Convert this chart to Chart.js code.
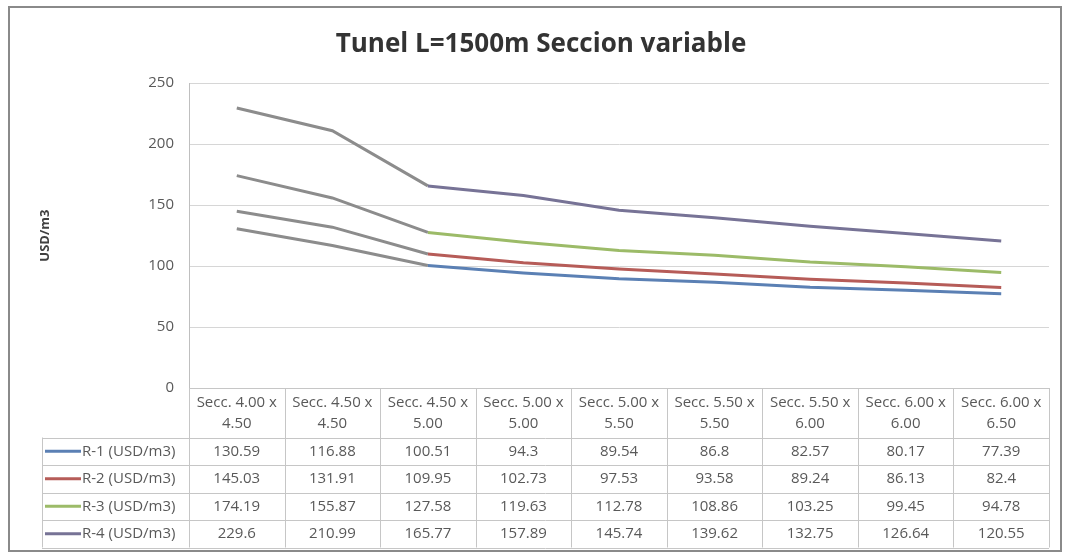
<!DOCTYPE html>
<html>
<head>
<meta charset="utf-8">
<script src="https://cdn.jsdelivr.net/npm/chart.js@4/dist/chart.umd.min.js"></script>
<style>
  html, body { margin: 0; padding: 0; background: #ffffff; }
  #wrap { position: relative; width: 1065px; height: 556px; }
</style>
</head>
<body>
<div id="wrap"><canvas id="c" width="1065" height="556"></canvas></div>
<script>
// Tunnel sections (two-line headers, as wrapped in the data table)
const categories = [
  ['Secc. 4.00 x', '4.50'],
  ['Secc. 4.50 x', '4.50'],
  ['Secc. 4.50 x', '5.00'],
  ['Secc. 5.00 x', '5.00'],
  ['Secc. 5.00 x', '5.50'],
  ['Secc. 5.50 x', '5.50'],
  ['Secc. 5.50 x', '6.00'],
  ['Secc. 6.00 x', '6.00'],
  ['Secc. 6.00 x', '6.50']
];

const seriesNames = ['R-1 (USD/m3)', 'R-2 (USD/m3)', 'R-3 (USD/m3)', 'R-4 (USD/m3)'];
const r1 = [130.59, 116.88, 100.51, 94.3, 89.54, 86.8, 82.57, 80.17, 77.39];
const r2 = [145.03, 131.91, 109.95, 102.73, 97.53, 93.58, 89.24, 86.13, 82.4];
const r3 = [174.19, 155.87, 127.58, 119.63, 112.78, 108.86, 103.25, 99.45, 94.78];
const r4 = [229.6, 210.99, 165.77, 157.89, 145.74, 139.62, 132.75, 126.64, 120.55];

const yMin = 0;
const yMax = 250;
const yStep = 50;

const seriesColors = ['#5b80b4', '#b65c58', '#9cbb68', '#777396'];
const fadedColor = '#8c8c8c';
const FONT = "'Open Sans', 'DejaVu Sans', sans-serif";
const TEXT = '#595959';
const RULE = '#c6c6c6';

const seriesData = [r1, r2, r3, r4];

// Segments over the smaller sections print in grey
const fadeSegments = (color) => (ctx) => (ctx.p0DataIndex < 2 ? fadedColor : color);

const datasets = seriesData.map((d, i) => ({
  label: seriesNames[i],
  data: d,
  borderColor: seriesColors[i],
  backgroundColor: seriesColors[i],
  borderWidth: 3,
  pointRadius: 0,
  pointHoverRadius: 0,
  tension: 0,
  fill: false,
  segment: { borderColor: fadeSegments(seriesColors[i]) }
}));

// Data table under the plot area plus the outer frame
const dataTable = {
  id: 'dataTable',
  afterDraw(chart) {
    const ctx = chart.ctx;
    const area = chart.chartArea;
    const xs = chart.scales.x;
    const n = categories.length;
    const colW = (area.right - area.left) / n;
    const top = area.bottom;
    const headBottom = top + 49.5;
    const rowH = 27.5;
    const legLeft = 42;
    const tableBottom = headBottom + rowH * seriesNames.length;

    ctx.save();
    ctx.strokeStyle = RULE;
    ctx.lineWidth = 1;

    // vertical cell borders
    for (let i = 0; i <= n; i++) {
      const x = Math.round(area.left + i * colW) + 0.5;
      ctx.beginPath();
      ctx.moveTo(x, top);
      ctx.lineTo(x, tableBottom);
      ctx.stroke();
    }
    // legend column left edge
    ctx.beginPath();
    ctx.moveTo(legLeft + 0.5, headBottom);
    ctx.lineTo(legLeft + 0.5, tableBottom);
    ctx.stroke();

    // horizontal borders
    ctx.beginPath();
    ctx.moveTo(area.left, Math.round(top) + 0.5);
    ctx.lineTo(area.right, Math.round(top) + 0.5);
    ctx.stroke();
    for (let r = 0; r <= seriesNames.length; r++) {
      const y = Math.round(headBottom + r * rowH) + 0.5;
      ctx.beginPath();
      ctx.moveTo(legLeft, y);
      ctx.lineTo(area.right, y);
      ctx.stroke();
    }

    // header labels
    ctx.fillStyle = TEXT;
    ctx.font = '15px ' + FONT;
    ctx.textAlign = 'center';
    ctx.textBaseline = 'middle';
    categories.forEach((lines, i) => {
      const cx = xs.getPixelForValue(i);
      ctx.fillText(lines[0], cx, top + 15);
      ctx.fillText(lines[1], cx, top + 36);
    });

    // rows: legend key, name, values
    seriesNames.forEach((name, r) => {
      const cy = headBottom + r * rowH + rowH / 2;
      ctx.strokeStyle = seriesColors[r];
      ctx.lineWidth = 3;
      ctx.beginPath();
      ctx.moveTo(45, cy);
      ctx.lineTo(81, cy);
      ctx.stroke();

      ctx.fillStyle = TEXT;
      ctx.textAlign = 'left';
      ctx.fillText(name, 82, cy);

      ctx.textAlign = 'center';
      seriesData[r].forEach((v, i) => {
        ctx.fillText(String(v), xs.getPixelForValue(i), cy);
      });
    });

    // outer frame
    ctx.strokeStyle = '#8a8a8a';
    ctx.lineWidth = 2;
    ctx.strokeRect(9, 7, 1052, 544);
    ctx.restore();
  }
};

new Chart(document.getElementById('c'), {
  type: 'line',
  data: { labels: categories, datasets },
  options: {
    responsive: false,
    animation: false,
    devicePixelRatio: 1,
    layout: { padding: { left: 33, right: 16, top: 0, bottom: 168 } },
    plugins: {
      legend: { display: false },
      tooltip: { enabled: false },
      title: {
        display: true,
        text: 'Tunel L=1500m Seccion variable',
        color: '#333333',
        font: { family: FONT, size: 26, weight: 'bold' },
        padding: { top: 29, bottom: 23 }
      }
    },
    scales: {
      x: {
        type: 'category',
        display: false,
        offset: true
      },
      y: {
        min: yMin,
        max: yMax,
        afterFit(scale) { scale.width = 156; },
        ticks: {
          stepSize: yStep,
          padding: 15,
          color: TEXT,
          font: { family: FONT, size: 15 }
        },
        grid: { color: '#d6d6d6', lineWidth: 1, drawTicks: false },
        border: { display: true, color: '#bfbfbf' },
        title: {
          display: true,
          text: 'USD/m3',
          color: '#404040',
          font: { family: FONT, size: 13, weight: 'bold' },
          padding: { top: 4, bottom: 4 }
        }
      }
    }
  },
  plugins: [dataTable]
});
</script>
</body>
</html>
